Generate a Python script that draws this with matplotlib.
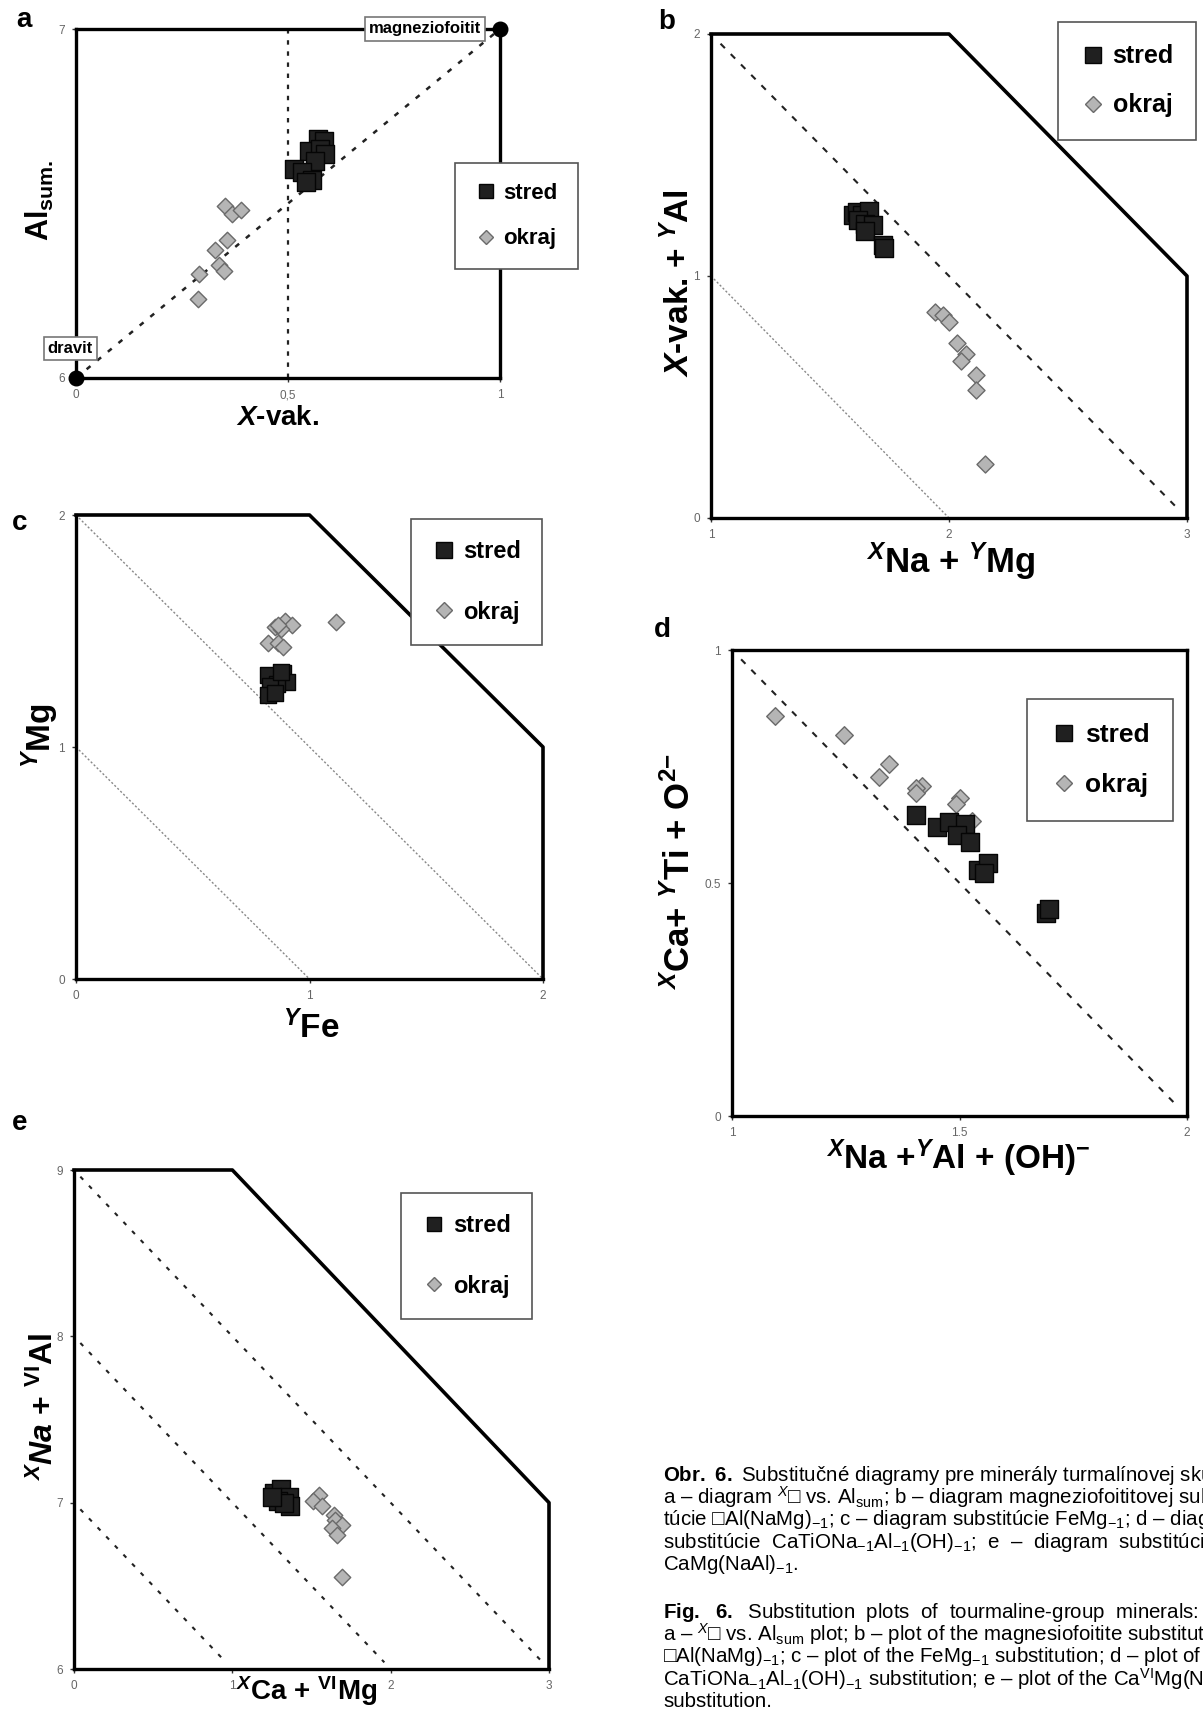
import matplotlib
matplotlib.use('Agg')
import matplotlib.pyplot as plt
from matplotlib.lines import Line2D

plt.rcParams['font.family'] = ['Liberation Sans', 'DejaVu Sans']
plt.rcParams['mathtext.fontset'] = 'custom'
plt.rcParams['mathtext.rm'] = 'Liberation Sans:bold'
plt.rcParams['mathtext.it'] = 'Liberation Sans:bold:italic'
plt.rcParams['mathtext.bf'] = 'Liberation Sans:bold'
plt.rcParams['mathtext.sf'] = 'Liberation Sans'
plt.rcParams['mathtext.tt'] = 'Liberation Sans:italic'

# ---- panel a : X-vacancy vs Al sum
a_stred_x = [0.570, 0.586, 0.550, 0.575, 0.588, 0.563, 0.514, 0.534, 0.557, 0.543]
a_stred_y = [6.684, 6.679, 6.651, 6.656, 6.643, 6.622, 6.598, 6.591, 6.567, 6.563]
a_okraj_x = [0.351, 0.369, 0.389, 0.355, 0.328, 0.337, 0.349, 0.291, 0.287]
a_okraj_y = [6.493, 6.469, 6.480, 6.394, 6.366, 6.325, 6.306, 6.299, 6.227]
a_end_x = [0, 1]          # dravit, magneziofoitit
a_end_y = [6, 7]

# ---- panel b
b_stred_x = [1.597, 1.615, 1.634, 1.664, 1.619, 1.645, 1.679, 1.649, 1.721, 1.728]
b_stred_y = [1.253, 1.265, 1.253, 1.268, 1.230, 1.215, 1.211, 1.185, 1.129, 1.117]
b_okraj_x = [1.940, 1.973, 2.000, 2.034, 2.070, 2.052, 2.112, 2.112, 2.152]
b_okraj_y = [0.853, 0.838, 0.808, 0.725, 0.679, 0.649, 0.592, 0.528, 0.223]
b_frame_x = [1, 2, 3, 3]
b_frame_y = [2, 2, 1, 0]

# ---- panel c
c_stred_x = [0.821, 0.887, 0.903, 0.862, 0.829, 0.821, 0.851, 0.878]
c_stred_y = [1.309, 1.321, 1.279, 1.271, 1.263, 1.225, 1.233, 1.325]
c_okraj_x = [0.854, 0.895, 0.923, 0.878, 0.867, 0.821, 0.865, 0.887, 1.113]
c_okraj_y = [1.516, 1.542, 1.524, 1.509, 1.527, 1.447, 1.450, 1.432, 1.540]
c_frame_x = [0, 1, 2, 2]
c_frame_y = [2, 2, 1, 0]

# ---- panel d
d_stred_x = [1.405, 1.451, 1.478, 1.512, 1.494, 1.522, 1.540, 1.562, 1.554, 1.690, 1.696]
d_stred_y = [0.645, 0.620, 0.630, 0.626, 0.604, 0.588, 0.528, 0.542, 0.522, 0.435, 0.444]
d_okraj_x = [1.095, 1.247, 1.346, 1.322, 1.417, 1.405, 1.405, 1.502, 1.492, 1.528]
d_okraj_y = [0.859, 0.818, 0.755, 0.727, 0.708, 0.704, 0.694, 0.682, 0.669, 0.634]

# ---- panel e
e_stred_x = [1.264, 1.308, 1.361, 1.288, 1.366, 1.324, 1.252]
e_stred_y = [7.059, 7.083, 7.036, 7.012, 6.977, 7.001, 7.036]
e_okraj_x = [1.550, 1.511, 1.567, 1.639, 1.651, 1.692, 1.632, 1.663, 1.692]
e_okraj_y = [7.048, 7.008, 6.977, 6.923, 6.895, 6.867, 6.848, 6.806, 6.555]
e_frame_x = [0, 1, 3, 3]
e_frame_y = [9, 9, 7, 6]

caption_obr = [
    r"$\mathrm{Obr.\ 6.}$ Substitučné diagramy pre minerály turmalínovej skupiny:",
    r"a – diagram $^{\mathtt{X}}$□ vs. Al$_{\mathsf{sum}}$; b – diagram magneziofoititovej substi-",
    r"túcie □Al(NaMg)$_{\mathsf{-1}}$; c – diagram substitúcie FeMg$_{\mathsf{-1}}$; d – diagram",
    r"substitúcie  CaTiONa$_{\mathsf{-1}}$Al$_{\mathsf{-1}}$(OH)$_{\mathsf{-1}}$;  e  –  diagram  substitúcie",
    r"CaMg(NaAl)$_{\mathsf{-1}}$.",
]
caption_fig = [
    r"$\mathrm{Fig.\ \ 6.}$  Substitution  plots  of  tourmaline-group  minerals:",
    r"a – $^{\mathtt{X}}$□ vs. Al$_{\mathsf{sum}}$ plot; b – plot of the magnesiofoitite substitution",
    r"□Al(NaMg)$_{\mathsf{-1}}$; c – plot of the FeMg$_{\mathsf{-1}}$ substitution; d – plot of the",
    r"CaTiONa$_{\mathsf{-1}}$Al$_{\mathsf{-1}}$(OH)$_{\mathsf{-1}}$ substitution; e – plot of the Ca$^{\mathsf{VI}}$Mg(Na$^{\mathsf{VI}}$Al)$_{\mathsf{-1}}$",
    r"substitution.",
]

STRED = dict(marker='s', facecolor='#202020', edgecolor='#050505', linewidths=1.0, zorder=5)
OKRAJ = dict(marker='D', facecolor='#b5b5b5', edgecolor='#6a6a6a', linewidths=1.0, zorder=4)

W, H = 1203, 1710
fig = plt.figure(figsize=(W / 100, H / 100), dpi=100)


def make_ax(l, t, r, b):
    return fig.add_axes([l / W, 1 - b / H, (r - l) / W, (b - t) / H])


def style(ax, xlim, ylim, xt, xtl, yt, ytl, box=False):
    ax.set_xlim(xlim)
    ax.set_ylim(ylim)
    ax.set_xticks(xt)
    ax.set_xticklabels(xtl)
    ax.set_yticks(yt)
    ax.set_yticklabels(ytl)
    for s in ax.spines.values():
        s.set_linewidth(2.4)
        s.set_color('black')
    if not box:
        ax.spines['top'].set_visible(False)
        ax.spines['right'].set_visible(False)
    ax.tick_params(length=3, width=1, color='#333333', labelsize=8.5,
                   labelcolor='#666666', pad=5)


def legend(ax, x, y, fs, ms, spacing):
    h = [Line2D([], [], ls='', marker='s', ms=ms, mfc='#202020', mec='#050505'),
         Line2D([], [], ls='', marker='D', ms=ms * 0.75, mfc='#b5b5b5', mec='#6a6a6a')]
    lg = ax.legend(h, ['stred', 'okraj'], loc='center', bbox_to_anchor=(x, y),
                   frameon=True, fancybox=False, framealpha=1, edgecolor='#555555',
                   prop={'weight': 'bold', 'size': fs}, labelspacing=spacing,
                   borderpad=0.9, handletextpad=0.3, handlelength=1.0, borderaxespad=0)
    lg.get_frame().set_linewidth(1.2)
    lg.set_zorder(10)
    return lg


def frame(ax, fx, fy):
    ax.plot(fx, fy, color='black', lw=2.6, clip_on=False, zorder=3,
            solid_capstyle='projecting')


LBL = dict(fontweight='bold', ha='center', va='center')

# ================= a
ax = make_ax(76, 29, 500, 378)
style(ax, (0, 1), (6, 7), [0, 0.5, 1], ['0', '0,5', '1'], [6, 7], ['6', '7'], box=True)
ax.axvline(0.5, color='#222222', lw=1.6, ls=(0, (2, 3)), zorder=2)
ax.plot(a_end_x, a_end_y, color='#222222', lw=1.8, ls=(0, (2, 3.5)), zorder=2)
ax.scatter(a_end_x, a_end_y, s=110, color='black', zorder=6, clip_on=False)
ax.scatter(a_okraj_x, a_okraj_y, s=70, **OKRAJ)
ax.scatter(a_stred_x, a_stred_y, s=180, **STRED)
box = dict(boxstyle='square,pad=0.25', fc='white', ec='#777777', lw=1.2)
ax.text(0.955, 7.0, 'magneziofoitit', fontsize=12, fontweight='bold', ha='right',
        va='center', bbox=box, zorder=7)
ax.text(0.04, 6.085, 'dravit', fontsize=12, fontweight='bold', ha='right',
        va='center', bbox=box, zorder=7)
legend(ax, 1.038, 0.464, 16, 10, 1.1)
ax.text(-0.085, 0.51, r'Al$_{\mathrm{sum.}}$', fontsize=22, rotation=90,
        transform=ax.transAxes, **LBL)
ax.text(0.476, -0.115, r'$X$-vak.', fontsize=20, transform=ax.transAxes, **LBL)

# ================= b
ax = make_ax(711, 34, 1187, 518)
style(ax, (1, 3), (0, 2), [1, 2, 3], ['1', '2', '3'], [0, 1, 2], ['0', '1', '2'])
frame(ax, b_frame_x, b_frame_y)
ax.plot([1.04, 2.96], [1.96, 0.04], color='#222222', lw=1.5, ls=(0, (3, 4)), zorder=2)
ax.plot([1.0, 2.0], [1.0, 0.0], color='#888888', lw=1.0, ls=(0, (1.5, 1.5)), zorder=2)
ax.scatter(b_okraj_x, b_okraj_y, s=75, **OKRAJ)
ax.scatter(b_stred_x, b_stred_y, s=150, **STRED)
legend(ax, 0.874, 0.903, 18, 11, 1.0)
ax.text(-0.068, 0.486, r'$X$-vak. + $^{Y}$Al', fontsize=24, rotation=90,
        transform=ax.transAxes, **LBL)
ax.text(0.504, -0.09, r'$^{X}$Na + $^{Y}$Mg', fontsize=25, transform=ax.transAxes, **LBL)

# ================= c
ax = make_ax(76, 515, 543, 979)
style(ax, (0, 2), (0, 2), [0, 1, 2], ['0', '1', '2'], [0, 1, 2], ['0', '1', '2'])
frame(ax, c_frame_x, c_frame_y)
ax.plot([0, 2], [2, 0], color='#888888', lw=1.0, ls=(0, (1.5, 1.5)), zorder=2)
ax.plot([0, 1], [1, 0], color='#888888', lw=1.0, ls=(0, (1.5, 1.5)), zorder=2)
ax.scatter(c_okraj_x, c_okraj_y, s=70, **OKRAJ)
ax.scatter(c_stred_x, c_stred_y, s=130, **STRED)
legend(ax, 0.857, 0.856, 17, 11, 1.6)
ax.text(-0.076, 0.524, r'$^{Y}$Mg', fontsize=24, rotation=90,
        transform=ax.transAxes, **LBL)
ax.text(0.503, -0.105, r'$^{Y}$Fe', fontsize=24, transform=ax.transAxes, **LBL)

# ================= d
ax = make_ax(732, 650, 1187, 1116)
style(ax, (1, 2), (0, 1), [1, 1.5, 2], ['1', '1.5', '2'], [0, 0.5, 1], ['0', '0.5', '1'], box=True)
ax.plot([1.02, 1.98], [0.98, 0.02], color='#222222', lw=1.5, ls=(0, (3, 4)), zorder=2)
ax.scatter(d_okraj_x, d_okraj_y, s=80, **OKRAJ)
ax.scatter(d_stred_x, d_stred_y, s=170, **STRED)
legend(ax, 0.809, 0.764, 19, 11, 1.0)
ax.text(-0.115, 0.524, r'$^{X}$Ca+ $^{Y}$Ti + O$^{2\mathrm{-}}$', fontsize=25, rotation=90,
        transform=ax.transAxes, **LBL)
ax.text(0.497, -0.09, r'$^{X}$Na +$^{Y}$Al + (OH)$^{\mathrm{-}}$', fontsize=24,
        transform=ax.transAxes, **LBL)

# ================= e
ax = make_ax(74, 1170, 549, 1669)
style(ax, (0, 3), (6, 9), [0, 1, 2, 3], ['0', '1', '2', '3'], [6, 7, 8, 9], ['6', '7', '8', '9'])
frame(ax, e_frame_x, e_frame_y)
for c0 in (9, 8, 7):
    ax.plot([0.04, c0 - 6 - 0.04], [c0 - 0.04, 6.04], color='#222222', lw=1.5,
            ls=(0, (2, 4)), zorder=2)
ax.scatter(e_okraj_x, e_okraj_y, s=70, **OKRAJ)
ax.scatter(e_stred_x, e_stred_y, s=160, **STRED)
legend(ax, 0.827, 0.828, 17, 10, 1.6)
ax.text(-0.063, 0.525, r'$^{X}Na$ + $^{\mathrm{VI}}$Al', fontsize=23, rotation=90,
        transform=ax.transAxes, **LBL)
ax.text(0.49, -0.045, r'$^{X}$Ca + $^{\mathrm{VI}}$Mg', fontsize=20,
        transform=ax.transAxes, **LBL)

# panel letters
for letter, (px, py) in zip('abcde', [(24, 20), (667, 22), (20, 523), (662, 630), (20, 1123)]):
    fig.text(px / W, 1 - py / H, letter, fontsize=20, fontweight='bold', ha='center', va='center')

# caption
for i, line in enumerate(caption_obr):
    fig.text(663 / W, 1 - (1475 + 22.4 * i) / H, line, fontsize=14.8, va='center', ha='left')
for i, line in enumerate(caption_fig):
    fig.text(663 / W, 1 - (1612 + 22.4 * i) / H, line, fontsize=14.8, va='center', ha='left')

fig.savefig('out.png', dpi=100)
